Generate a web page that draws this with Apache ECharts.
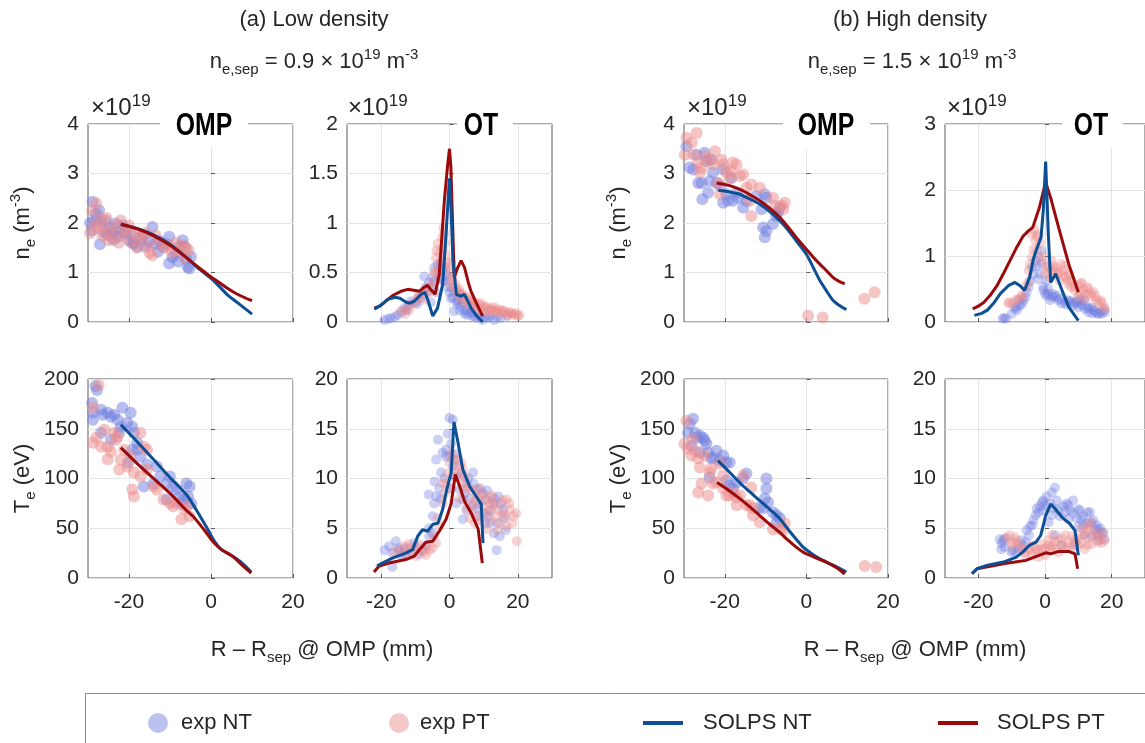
<!DOCTYPE html>
<html>
<head>
<meta charset="utf-8">
<script src="https://cdn.jsdelivr.net/npm/echarts@6.0.0/dist/echarts.min.js"></script>
<style>
  html, body { margin: 0; padding: 0; background: #fff; }
  #chart { width: 1145px; height: 743px; }
</style>
</head>
<body>
<div id="chart"></div>
<script>
// ===== data =====
const xTicks = [-20, 0, 20];

// (a) low density, OMP n_e  (x: mm, y: 1e19 m^-3)
const lowOmpNeNT = [[-29.5,2.0],[-28.9,2.43],[-28.1,2.19],[-27.3,2.26],[-26.9,2.02],[-27.1,1.57],[-26.1,1.82],[-25.3,1.76],[-24.5,1.9],[-23.3,1.99],[-22.8,1.72],[-22.0,1.83],[-20.8,1.79],[-20.0,1.65],[-18.8,1.58],[-18.0,1.52],[-17.2,1.69],[-16.0,1.52],[-15.2,1.62],[-14.3,1.92],[-13.5,1.58],[-13.0,1.42],[-11.8,1.52],[-11.0,1.58],[-10.2,1.72],[-10.2,1.18],[-9.4,1.31],[-8.6,1.38],[-7.8,1.52],[-6.9,1.65],[-6.5,1.52],[-6.1,1.28],[-5.7,1.11],[-5.3,1.08],[-4.9,1.32],[-29.0,1.85],[-25.8,2.05],[-23.8,1.66],[-21.5,1.95],[-19.5,1.78],[-16.6,1.74],[-12.4,1.63],[-8.0,1.22],[-28.4,2.05],[-24.0,1.8],[-19.0,1.6]];
const lowOmpNePT = [[-29.5,1.8],[-29.0,2.25],[-28.5,1.95],[-28.0,2.4],[-27.5,1.9],[-27.0,2.1],[-26.5,1.75],[-26.0,1.9],[-25.5,2.1],[-25.0,1.65],[-24.5,1.85],[-24.0,1.7],[-23.0,1.95],[-22.5,1.6],[-22.0,2.05],[-21.5,1.75],[-21.0,1.85],[-20.0,1.95],[-19.5,1.6],[-19.0,1.8],[-18.0,1.5],[-17.5,1.7],[-17.0,1.75],[-16.0,1.8],[-15.5,1.55],[-15.0,1.4],[-14.3,1.35],[-13.5,1.75],[-12.5,1.6],[-11.5,1.5],[-10.5,1.55],[-9.5,1.4],[-8.5,1.6],[-8.0,1.45],[-7.0,1.55],[-6.5,1.3],[-6.0,1.5],[-5.5,1.45]];
const lowOmpNeSolNT = [[-22,1.97],[-18,1.89],[-14,1.76],[-10,1.57],[-6,1.3],[-3,1.08],[0,0.88],[2,0.72],[4,0.55],[6,0.42],[8,0.29],[10,0.16]];
const lowOmpNeSolPT = [[-22,1.98],[-18,1.88],[-14,1.74],[-10,1.55],[-6,1.3],[-3,1.1],[0,0.91],[2,0.8],[4,0.68],[6,0.58],[8,0.5],[10,0.43]];

// (a) low density, OT n_e
const lowOtNeNT = [[-19.1,0.02],[-17.1,0.04],[-15.2,0.07],[-13.2,0.14],[-11.3,0.21],[-8.3,0.24],[-7.4,0.46],[-5.4,0.35],[-4.4,0.41],[-3.5,0.58],[-2.0,0.53],[-1.5,0.41],[-0.5,0.35],[0.4,0.24],[1.4,0.11],[1.9,0.21],[2.9,0.28],[3.4,0.16],[4.3,0.11],[5.3,0.07],[6.8,0.06],[8.2,0.04],[9.7,0.02],[11.2,0.04],[13.1,0.02],[15.0,0.04],[17.0,0.06],[-18,0.03],[-16,0.05],[-14,0.1],[-12,0.17],[-10,0.2],[-9,0.25],[-6.5,0.3],[-3,0.45],[-2.5,0.6],[-1,0.48],[0,0.3],[1,0.25],[2.4,0.18],[3.8,0.24],[5,0.12],[6,0.09],[7.5,0.05],[-4,0.3],[-6,0.4],
    [-7,0.35],[-5,0.45],[-4.5,0.55],[-3,0.52],[-2,0.42],[-1.5,0.55],[-0.5,0.45],[0.5,0.35],[1.5,0.3],[2.5,0.22],[3,0.12],[4,0.2],[4.5,0.08],[6,0.15],[7,0.1],[9,0.06],[10.5,0.05],[12,0.06],[14,0.05],[-9.5,0.18],[-12.5,0.12],[-5.5,0.2]];
const lowOtNePT = [[-14.2,0.11],[-12.7,0.13],[-11.3,0.18],[-9.3,0.24],[-7.4,0.28],[-5.4,0.35],[-4.0,0.65],[-3.5,0.79],[-3.0,0.48],[-2.5,0.62],[-2.0,0.75],[-1.5,0.89],[-1.0,0.68],[0.4,0.38],[1.4,0.35],[2.4,0.28],[3.4,0.24],[4.3,0.21],[5.3,0.18],[6.3,0.21],[7.3,0.16],[8.2,0.14],[9.2,0.19],[10.2,0.16],[11.2,0.13],[12.1,0.14],[13.1,0.11],[14.1,0.13],[15.1,0.09],[16.0,0.11],[17.0,0.07],[18.0,0.09],[19.0,0.07],[20.0,0.06],[-13,0.08],[-10,0.2],[-8,0.22],[-6,0.3],[-4.5,0.5],[-3.2,0.55],[-1.8,0.95],[-0.5,0.55],[0.8,0.45],[2,0.32],[3,0.3],[5,0.24],[7,0.2],[9,0.12],[11,0.1],[13,0.15],[15.5,0.12],[17.5,0.1],[19.5,0.09],
    [-9,0.28],[-7,0.32],[-5,0.4],[-4,0.5],[-3.8,0.72],[-2.8,0.7],[-2.2,0.85],[-1.2,0.8],[-0.8,0.6],[0,0.5],[0.5,0.6],[1,0.42],[1.8,0.38],[2.8,0.33],[3.8,0.28],[4.8,0.26],[5.8,0.22],[6.8,0.18],[7.8,0.2],[8.8,0.17],[9.8,0.13],[10.8,0.15],[11.8,0.11],[12.8,0.12],[13.8,0.1],[14.8,0.11],[16.5,0.09],[18.5,0.08],[20.5,0.07],[-11.8,0.12]];
const lowOtNeSolNT = [[-22,0.13],[-20,0.17],[-18,0.23],[-16,0.25],[-14.5,0.24],[-12.7,0.2],[-11.5,0.19],[-10.3,0.21],[-8.3,0.28],[-7.2,0.3],[-6.3,0.22],[-4.9,0.06],[-3.5,0.14],[-2,0.38],[-1,0.89],[-0.3,1.3],[0,1.45],[0.4,1.2],[1,0.62],[2,0.28],[3.4,0.26],[4.4,0.28],[5.5,0.2],[6.3,0.14],[8,0.06],[9.7,0]];
const lowOtNeSolPT = [[-22,0.14],[-20.5,0.16],[-19,0.2],[-16.5,0.27],[-14.2,0.31],[-12.2,0.33],[-10.5,0.32],[-8.8,0.31],[-7.5,0.35],[-6.4,0.37],[-5.3,0.32],[-4.2,0.28],[-3,0.48],[-1.5,1.23],[-0.5,1.6],[0,1.75],[0.4,1.57],[0.9,1.0],[1.4,0.45],[2.4,0.55],[3.4,0.62],[4.4,0.55],[5.5,0.4],[6.3,0.31],[8,0.18],[9.7,0.06]];

// (a) low density, OMP T_e (eV)
const lowOmpTeNT = [[-29.0,176],[-28.8,166],[-28.2,193],[-27.8,189],[-28.8,159],[-26.8,169],[-26.4,164],[-25.2,166],[-24.4,162],[-23.6,164],[-22.8,159],[-21.6,171],[-19.6,166],[-20.4,156],[-19.2,152],[-18.8,146],[-18.0,136],[-19.2,129],[-20.2,116],[-17.2,122],[-16.4,92],[-14.0,95],[-13.2,112],[-12.4,102],[-10.8,95],[-10.0,102],[-9.2,92],[-8.4,89],[-7.6,82],[-6.8,79],[-6.0,95],[-5.2,92],[-5.6,82],[-4.8,75],[-7.2,75],[-26.8,146],[-24.4,139],[-22.4,146],[-18.0,129],[-15.6,114],[-10.8,79],[-22.0,152]];
const lowOmpTePT = [[-27.4,194],[-28.8,171],[-28.8,136],[-28.0,141],[-26.8,132],[-26.0,149],[-25.2,132],[-24.4,127],[-23.2,139],[-22.8,142],[-22.4,109],[-22.0,119],[-21.2,129],[-18.8,106],[-19.2,89],[-18.8,82],[-17.2,146],[-16.4,132],[-15.6,129],[-17.2,102],[-14.0,92],[-11.6,79],[-10.0,75],[-9.2,72],[-8.4,75],[-7.2,59],[-6.4,69],[-5.2,62],[-25.2,119],[-23.6,146],[-20.4,112],[-15.6,109],[-13.2,89],[-6.0,72],[-19.6,122]];
const lowOmpTeSolNT = [[-22,154],[-18,137],[-14,119],[-10,101],[-6,84],[-4.4,74],[-2.8,63],[-0.8,49],[0.8,37],[2.4,29],[5.2,22],[7.6,15],[9.8,6]];
const lowOmpTeSolPT = [[-22,131],[-18,115],[-14,100],[-10,85],[-6,68],[-4.4,62],[-1.6,48],[0.4,37],[2.4,29],[5.2,22],[7.6,13],[9.8,5]];

// (a) low density, OT T_e
const lowOtTeNT = [[-17.7,3.2],[-15.7,3.7],[-16.7,2.5],[-14.7,2.8],[-12.8,2.5],[-9.8,3.2],[-7.9,2.8],[-5.9,4.2],[-4.9,6.2],[-3.9,8.2],[-4.4,9.7],[-3.9,11.9],[-3.4,13.9],[-2.5,10.6],[-2.0,12.6],[-1.0,12.9],[0,16.1],[1.0,15.9],[0,12.2],[1.0,11.2],[2.0,10.2],[2.9,8.9],[3.9,7.9],[4.9,9.5],[6.9,10.6],[7.9,8.9],[8.8,7.5],[9.8,8.5],[10.8,7.9],[11.8,5.5],[13.8,2.8],[14.7,4.2],[15.7,6.9],[14.3,8.2],[12.8,7.5],[11.3,6.2],[3.9,5.9],[-16.7,1.1],[-6.1,8.4],[-1.0,12.2],
    [-14,2.2],[-13,3.0],[-11,2.6],[-10.5,3.5],[-9,2.4],[-7,3.3],[-6,5.0],[-5,4.5],[-4.5,7.5],[-3,9.0],[-2.5,8.0],[-1.5,10.0],[-0.5,14.5],[0.5,13.5],[1.5,12.5],[2.5,11.8],[3.5,10.5],[4.5,8.5],[5.5,10.0],[6,8.0],[7,9.5],[8,7.0],[9,9.0],[10,6.5],[11,8.8],[12,6.8],[13,8.0],[14,5.5],[15,7.5],[16,6.0],[16.5,4.8],[13,4.5],[10.5,5.5],[8.5,6.2],[6.5,7.2],[5,6.8],[2,7.5],[-19,2.8],[-15,3.0],[0.5,9.0]];
const lowOtTePT = [[-14.7,2.8],[-13.3,3.2],[-11.8,3.0],[-10.8,2.5],[-9.8,2.2],[-8.4,2.8],[-6.9,2.3],[-5.9,2.8],[-3.9,3.5],[-2.9,5.2],[-2.0,7.5],[-1.0,9.5],[0,11.6],[1.0,11.9],[2.0,11.2],[2.9,10.2],[3.9,9.5],[4.9,8.9],[5.9,7.5],[6.9,6.9],[7.9,6.2],[8.8,8.2],[9.8,7.2],[10.8,6.5],[11.8,7.5],[12.8,7.2],[13.8,6.2],[14.7,5.5],[15.7,6.5],[16.7,7.9],[17.7,6.9],[18.7,6.2],[19.7,3.7],[16.7,5.2],[11.8,8.2],[3.9,10.9],[-2.0,9.5],[1.0,10.2],[7.4,5.5],[10.8,4.9],
    [-16,2.6],[-13,2.4],[-12,3.4],[-10,3.0],[-9,3.4],[-7.5,2.6],[-6.5,3.2],[-5,3.0],[-4.5,4.2],[-3.5,6.0],[-1.5,8.5],[-0.5,10.5],[0.5,12.5],[1.5,10.8],[2.5,12.0],[3.5,11.5],[4.5,10.2],[5.5,9.2],[6.5,8.8],[7.5,7.8],[8.5,9.0],[9.5,8.5],[10.5,7.8],[11.5,6.8],[12.5,8.3],[13.5,7.5],[14.5,6.8],[15.5,7.8],[16.5,6.2],[17.5,7.5],[18.5,5.5],[19.5,6.5],[14,4.8],[12,5.8],[9,5.8],[6,6.0],[3,8.0],[0,9.0],[5,7.0],[8,8.0]];
const lowOtTeSolNT = [[-21.2,1.2],[-19.7,1.5],[-16.7,2.0],[-12.8,2.5],[-10.8,2.85],[-9.3,4.2],[-7.9,4.85],[-6.4,4.7],[-4.9,5.4],[-3.4,5.5],[-2,6.9],[-0.8,8.9],[0.5,10.6],[1.3,15.7],[2.5,13.6],[3.9,10.9],[5.9,9.2],[8.4,7.9],[9.3,7.4],[9.8,3.5]];
const lowOtTeSolPT = [[-22.1,0.6],[-20.6,1.2],[-17.7,1.5],[-12.8,1.85],[-10.3,2.2],[-8.4,3.0],[-6.9,3.6],[-4.9,3.7],[-3,4.7],[-1,5.9],[0.5,7.5],[1.7,10.4],[3,9.2],[4.4,7.7],[6.4,6.5],[8.4,4.9],[9.6,1.5]];

// (b) high density, OMP n_e
const highOmpNeNT = [[-29.4,3.55],[-28.6,3.12],[-27.7,3.08],[-26.5,2.81],[-25.7,2.81],[-25.5,2.48],[-24.9,3.42],[-24.5,3.25],[-24.1,2.61],[-23.7,2.85],[-22.9,3.02],[-22.0,2.81],[-21.2,2.75],[-20.4,3.08],[-20.4,2.41],[-19.6,2.58],[-19.2,2.45],[-18.4,2.91],[-18.0,2.45],[-17.1,2.61],[-15.5,2.31],[-14.7,2.45],[-12.3,2.55],[-11.0,2.28],[-10.2,2.58],[-9.8,2.51],[-10.6,1.91],[-10.2,1.71],[-9.8,1.84],[-8.2,1.98],[-7.4,2.14],[-6.6,2.31],[-7.0,2.21],[-26.9,3.38],[-23.3,3.28],[-16.7,2.51]];
const highOmpNePT = [[-29.8,3.38],[-29.4,3.72],[-28.1,3.62],[-26.9,3.82],[-27.7,3.38],[-26.5,3.22],[-26.1,3.02],[-24.9,3.35],[-23.7,3.28],[-22.4,3.45],[-22.9,3.18],[-21.6,2.81],[-21.2,2.58],[-20.8,3.28],[-19.6,3.02],[-18.8,2.91],[-18.0,3.22],[-17.1,3.18],[-16.3,2.95],[-15.5,2.98],[-14.7,2.71],[-13.5,2.78],[-13.9,2.45],[-13.5,2.14],[-11.4,2.71],[-8.2,2.51],[-7.8,2.35],[-6.1,2.35],[-5.3,2.41],[-5.7,2.28],[0.4,0.13],[4.0,0.09],[14.2,0.47],[16.7,0.6],[-25.7,3.12],[-20.4,3.18],[-18.4,3.05]];
const highOmpNeSolNT = [[-21.6,2.66],[-19,2.63],[-16.3,2.58],[-14,2.49],[-11.4,2.38],[-9,2.23],[-6.5,2.04],[-4.5,1.86],[-2.5,1.64],[0,1.37],[1.8,1.08],[3.3,0.84],[5,0.62],[6.5,0.44],[8,0.34],[9.8,0.25]];
const highOmpNeSolPT = [[-22,2.81],[-19,2.76],[-16.3,2.68],[-14,2.58],[-11.4,2.45],[-9,2.3],[-6.5,2.11],[-4.5,1.92],[-2.5,1.71],[0,1.47],[1.8,1.3],[3.3,1.17],[5,1.03],[6.5,0.9],[8,0.82],[9.4,0.77]];

// (b) high density, OT n_e
const highOtNeNT = [[-12.7,0.05],[-11.7,0.05],[-8.8,0.23],[-7.8,0.33],[-5.9,0.38],[-4.9,0.53],[-3.9,0.83],[-2.9,0.93],[-1.9,0.98],[-1.0,1.08],[-1.5,0.73],[0.05,0.43],[1.0,0.43],[2.0,0.38],[2.9,0.38],[3.9,0.33],[5.9,0.3],[7.8,0.3],[8.8,0.28],[10.7,0.28],[12.7,0.23],[14.6,0.18],[16.6,0.15],[17.6,0.18],[15.6,0.13],[13.2,0.2],[11.7,0.33],[10.7,0.35],[-6.8,0.28],[-8.3,0.18],[-0.5,0.53],[0.5,0.63],[-1.0,0.88],[1.5,0.33],[6.8,0.33],[9.8,0.33],[14.1,0.13],
    [-12.2,0.06],[-10,0.12],[-9,0.2],[-7.5,0.25],[-6.5,0.33],[-5.5,0.45],[-4.5,0.62],[-3.5,0.72],[-2.5,0.85],[-2,0.65],[-0.5,0.48],[0.5,0.4],[1,0.5],[2.5,0.42],[3.5,0.4],[4.5,0.35],[5,0.28],[6.5,0.26],[7.5,0.32],[8.5,0.25],[9.5,0.3],[10,0.22],[11,0.25],[12,0.2],[13,0.15],[14,0.22],[15,0.16],[16,0.12],[17,0.12],[18,0.15]];
const highOtNePT = [[-10.7,0.3],[-8.8,0.33],[-5.9,0.53],[-4.9,0.78],[-3.9,0.98],[-2.9,1.23],[-1.9,1.33],[-3.9,1.33],[-1.0,0.93],[1.0,0.83],[2.0,0.93],[2.9,0.78],[3.9,0.73],[4.9,0.88],[5.9,0.78],[6.8,0.63],[7.8,0.53],[8.8,0.53],[10.7,0.58],[11.7,0.48],[12.7,0.53],[13.7,0.43],[14.6,0.45],[15.6,0.33],[16.6,0.33],[17.6,0.23],[9.8,0.38],[11.7,0.35],[-9.8,0.28],[-6.8,0.38],[-2.4,1.08],[0,0.73],[1.5,0.68],[4.4,0.63],[6.3,0.68],
    [-11,0.28],[-8,0.35],[-7,0.4],[-5,0.6],[-4.5,0.88],[-3.5,1.1],[-2.5,1.3],[-3.2,1.4],[-1.5,1.2],[-0.5,1.0],[0.5,0.85],[1.5,0.78],[2.5,0.85],[3.5,0.82],[4.2,0.75],[5.5,0.7],[6,0.85],[7.2,0.72],[7,0.58],[8,0.62],[9,0.48],[10,0.55],[10.5,0.45],[11,0.6],[12,0.42],[13,0.5],[14,0.38],[15,0.4],[16,0.28],[17,0.3],[18,0.2]];
const highOtNeSolNT = [[-21.2,0.1],[-19,0.13],[-17.3,0.18],[-15.5,0.28],[-13.4,0.43],[-11,0.55],[-9,0.6],[-7.5,0.55],[-6.1,0.48],[-4.6,0.68],[-3.5,0.95],[-2.7,1.08],[-1.2,1.28],[-0.5,1.7],[0.2,2.43],[1,1.33],[1.7,0.6],[3.2,0.73],[5.1,0.48],[7.1,0.23],[10,0.02]];
const highOtNeSolPT = [[-21.7,0.2],[-20,0.24],[-18.3,0.3],[-16.5,0.4],[-14.4,0.55],[-12.5,0.73],[-10.5,0.93],[-8.5,1.13],[-6.6,1.3],[-5,1.38],[-3.7,1.43],[-1.7,1.73],[0.2,2.12],[1.7,1.88],[4.1,1.43],[7.1,0.88],[9,0.6],[10,0.45]];

// (b) high density, OMP T_e
const highOmpTeNT = [[-29.0,146],[-28.6,155],[-27.8,160],[-28.2,133],[-26.9,141],[-26.1,143],[-25.3,141],[-24.9,138],[-24.5,135],[-24.1,126],[-26.1,126],[-23.7,101],[-22.9,121],[-22.0,128],[-21.2,118],[-20.4,123],[-19.6,116],[-18.8,116],[-19.6,98],[-18.8,93],[-18.0,90],[-14.7,105],[-15.5,100],[-11.4,71],[-10.2,80],[-9.8,100],[-9.8,90],[-9.4,76],[-8.2,66],[-7.3,63],[-6.5,60],[-7.3,56],[-27.3,146],[-23.3,120],[-17.1,96],[-10.6,70]];
const highOmpTePT = [[-29.4,158],[-29.9,135],[-29.0,130],[-28.2,123],[-27.8,140],[-27.3,128],[-26.5,120],[-26.1,111],[-25.7,95],[-26.5,86],[-24.1,83],[-23.7,106],[-23.3,110],[-22.9,95],[-22.0,96],[-21.2,115],[-20.4,90],[-19.6,83],[-18.8,83],[-18.0,86],[-17.1,81],[-16.3,83],[-15.5,103],[-14.7,73],[-13.9,73],[-13.5,91],[-13.1,70],[-11.4,56],[-6.5,49],[-5.7,48],[-5.3,55],[14.3,12],[17.1,11],[-24.9,123],[-20.4,103],[-17.1,73],[-13.1,63],[-8.2,49]];
const highOmpTeSolNT = [[-21.7,118],[-19,107],[-16.4,96],[-14,87],[-11.5,78],[-9,69],[-6.6,60],[-4.5,49],[-2.5,39],[-0.8,31],[0.8,26],[3,20],[4.9,16],[7.5,11],[9.8,6]];
const highOmpTeSolPT = [[-21.9,96],[-19,88],[-16.4,80],[-14,72],[-11.5,63],[-9,54],[-6.6,46],[-4.5,38],[-2.5,31],[-0.8,26],[0.8,23],[3,19],[4.9,16],[7.5,10],[9.4,4]];

// (b) high density, OT T_e
const highOtTeNT = [[-13.6,3.9],[-12.6,3.8],[-12.2,3.1],[-13.1,2.9],[-8.7,2.6],[-6.8,3.3],[-4.8,4.3],[-3.8,5.3],[-2.8,6.3],[-1.9,6.6],[-0.9,7.6],[0.1,7.3],[2.1,8.6],[3.0,9.1],[1.1,5.6],[2.1,6.3],[4.0,6.9],[6.0,6.6],[7.0,5.9],[8.4,7.8],[9.9,6.9],[10.9,5.9],[12.8,6.6],[13.8,5.6],[14.8,4.9],[15.8,4.3],[16.8,4.6],[17.7,3.9],[11.9,4.3],[8.9,3.3],[5.0,3.3],[3.0,4.3],[-9.7,2.8],[-5.8,3.6],[-0.5,7.8],[7.0,7.3],[11.4,5.3],[15.8,4.9],
    [-13,3.5],[-12,4.0],[-10,2.6],[-8,3.0],[-7,3.8],[-5.5,4.8],[-4.5,5.2],[-3.5,5.8],[-2.5,7.0],[-1.5,7.2],[-0.5,6.8],[0.5,8.2],[1.5,7.5],[2.5,7.0],[3.5,7.8],[4.5,6.2],[5.5,7.2],[6.5,7.5],[7.5,6.8],[8.5,6.5],[9.5,6.0],[10.5,6.8],[11.5,6.2],[12.5,5.5],[13.5,6.6],[14.5,5.8],[15.5,5.3],[16.5,5.0],[17.5,4.5],[14,4.2],[16,3.8],[10,5.2]];
const highOtTePT = [[-10.7,4.3],[-9.7,3.6],[-8.7,3.8],[-6.8,2.9],[-4.8,2.9],[-2.8,2.6],[-0.9,2.9],[1.1,3.3],[3.0,3.6],[5.0,3.3],[7.0,3.6],[8.9,3.9],[10.9,4.3],[12.8,4.9],[14.8,4.3],[15.8,3.6],[16.8,3.9],[11.9,2.9],[7.9,2.9],[4.0,2.6],[0.1,2.3],[-1.9,2.1],[-5.8,2.3],[-3.8,3.3],[2.1,4.3],[6.0,4.3],[9.9,3.3],[13.8,5.6],[12.8,3.3],[1.6,2.9],
    [-11.5,4.0],[-10,3.2],[-9,4.1],[-8,3.5],[-7,3.0],[-6,2.6],[-4,2.4],[-3,3.0],[-2,2.8],[-1,3.4],[0,3.0],[1,3.8],[2,3.2],[3,2.9],[4,3.8],[5,4.0],[6,3.0],[7,3.2],[8,4.2],[9,3.6],[10,3.9],[11,3.5],[12,4.5],[13,4.0],[14,3.4],[15,4.6],[16,4.2],[17,3.5],[17.5,4.6],[18,3.8],[13,5.2],[11,5.0]];
const highOtTeSolNT = [[-21.9,0.43],[-20.4,0.93],[-17.5,1.27],[-12.5,1.6],[-8.6,2.1],[-6.7,2.6],[-4.7,3.27],[-2.7,3.6],[-1.3,4.27],[0.2,6.27],[1.7,7.43],[3.1,6.93],[5.1,6.1],[7.5,5.43],[9,4.77],[10,2.27]];
const highOtTeSolPT = [[-21.9,0.43],[-20.4,0.93],[-16,1.2],[-12.5,1.43],[-9,1.6],[-5.7,1.77],[-1.8,2.27],[0.2,2.53],[1.7,2.43],[4.1,2.67],[7.1,2.67],[9,2.43],[9.8,0.93]];

// ===== style =====
const FONT = "'Liberation Sans', 'Helvetica Neue', Arial, sans-serif";
const TXT = '#262626';
const C_NT = '#0c4f95';
const C_PT = '#9b0a0a';
const C_EXP_NT = 'rgb(112,126,224)';
const C_EXP_PT = 'rgb(236,138,138)';

const rich = {
    n: { fontSize: 22, fontFamily: FONT, color: TXT, lineHeight: 30 },
    sub: { fontSize: 15, fontFamily: FONT, color: TXT, lineHeight: 15, verticalAlign: 'bottom' },
    sup: { fontSize: 15, fontFamily: FONT, color: TXT, lineHeight: 15, verticalAlign: 'top' }
};

// panel layout: [left, top, width, height]
const panels = [
    { box: [88, 124, 205, 198], x: [-30, 20], y: [0, 4, 1], d: [lowOmpNeNT, lowOmpNePT, lowOmpNeSolNT, lowOmpNeSolPT], omp: true, bottom: false, yName: 'ne' },
    { box: [347, 124, 205, 198], x: [-30, 30], y: [0, 2, 0.5], d: [lowOtNeNT, lowOtNePT, lowOtNeSolNT, lowOtNeSolPT], omp: false, bottom: false },
    { box: [88, 379, 205, 199], x: [-30, 20], y: [0, 200, 50], d: [lowOmpTeNT, lowOmpTePT, lowOmpTeSolNT, lowOmpTeSolPT], omp: true, bottom: true, yName: 'te' },
    { box: [347, 379, 205, 199], x: [-30, 30], y: [0, 20, 5], d: [lowOtTeNT, lowOtTePT, lowOtTeSolNT, lowOtTeSolPT], omp: false, bottom: true },
    { box: [684, 124, 204, 198], x: [-30, 20], y: [0, 4, 1], d: [highOmpNeNT, highOmpNePT, highOmpNeSolNT, highOmpNeSolPT], omp: true, bottom: false, yName: 'ne' },
    { box: [945, 124, 205, 198], x: [-30, 30], y: [0, 3, 1], d: [highOtNeNT, highOtNePT, highOtNeSolNT, highOtNeSolPT], omp: false, bottom: false },
    { box: [684, 379, 204, 199], x: [-30, 20], y: [0, 200, 50], d: [highOmpTeNT, highOmpTePT, highOmpTeSolNT, highOmpTeSolPT], omp: true, bottom: true, yName: 'te' },
    { box: [945, 379, 205, 199], x: [-30, 30], y: [0, 20, 5], d: [highOtTeNT, highOtTePT, highOtTeSolNT, highOtTeSolPT], omp: false, bottom: true }
];

const yNames = {
    ne: '{n|n}{sub|e}{n| (m}{sup|-3}{n|)}',
    te: '{n|T}{sub|e}{n| (eV)}'
};

const grid = [], xAxis = [], yAxis = [], series = [];

panels.forEach((p, i) => {
    grid.push({
        left: p.box[0], top: p.box[1], width: p.box[2], height: p.box[3],
        show: true, borderColor: '#5a5a5a', borderWidth: 1
    });
    xAxis.push({
        gridIndex: i, type: 'value', min: p.x[0], max: p.x[1],
        axisLine: { show: false },
        axisTick: { show: true, inside: true, length: 4, customValues: xTicks, lineStyle: { color: '#5a5a5a' } },
        axisLabel: { show: p.bottom, customValues: xTicks, fontSize: 21, fontFamily: FONT, color: TXT, margin: 14 },
        splitLine: { show: true, lineStyle: { color: '#e4e4e4' } }
    });
    yAxis.push({
        gridIndex: i, type: 'value', min: p.y[0], max: p.y[1], interval: p.y[2],
        axisLine: { show: false },
        axisTick: { show: true, inside: true, length: 4, lineStyle: { color: '#5a5a5a' } },
        axisLabel: { fontSize: 21, fontFamily: FONT, color: TXT, margin: 9 },
        splitLine: { show: true, lineStyle: { color: '#e4e4e4' } },
        name: p.yName ? yNames[p.yName] : '',
        nameLocation: 'middle', nameRotate: 90, nameGap: 50,
        nameTextStyle: { rich }
    });

    const sz = p.omp ? 12 : 10;
    const op = p.omp ? 0.5 : 0.36;
    series.push(
        { type: 'scatter', name: 'exp NT', xAxisIndex: i, yAxisIndex: i, data: p.d[0], symbolSize: sz,
          itemStyle: { color: C_EXP_NT, opacity: op }, z: 2, silent: true },
        { type: 'scatter', name: 'exp PT', xAxisIndex: i, yAxisIndex: i, data: p.d[1], symbolSize: sz,
          itemStyle: { color: C_EXP_PT, opacity: op }, z: 2, silent: true },
        { type: 'line', name: 'SOLPS NT', xAxisIndex: i, yAxisIndex: i, data: p.d[2], symbol: 'none',
          smooth: p.omp ? 0.3 : false, lineStyle: { color: C_NT, width: 3 }, itemStyle: { color: C_NT },
          z: p.omp ? 3 : 4, silent: true },
        { type: 'line', name: 'SOLPS PT', xAxisIndex: i, yAxisIndex: i, data: p.d[3], symbol: 'none',
          smooth: p.omp ? 0.3 : false, lineStyle: { color: C_PT, width: 3 }, itemStyle: { color: C_PT },
          z: p.omp ? 4 : 3, silent: true }
    );
});

// ===== texts drawn on top =====
function txt(x, y, text, extra, el) {
    return Object.assign({
        type: 'text', x, y, z: 60,
        style: Object.assign({ text, fontSize: 22, fontFamily: FONT, fill: TXT,
            align: 'center', verticalAlign: 'middle', textAlign: 'center', textVerticalAlign: 'middle' }, extra || {})
    }, el || {});
}

const titleBoxes = [
    { rect: [160, 104, 88, 43], label: 'OMP', cx: 204 },
    { rect: [457, 104, 56, 43], label: 'OT', cx: 481 },
    { rect: [783, 104, 87, 44], label: 'OMP', cx: 826 },
    { rect: [1062, 104, 61, 44], label: 'OT', cx: 1091 }
];
const expoLabels = [91, 348, 687, 947];

const graphic = [];
graphic.push(txt(314, 20, '(a) Low density'));
graphic.push(txt(910, 20, '(b) High density'));
graphic.push(txt(314, 62, '{n|n}{sub|e,sep}{n| = 0.9 × 10}{sup|19}{n| m}{sup|-3}', { rich }));
graphic.push(txt(912, 62, '{n|n}{sub|e,sep}{n| = 1.5 × 10}{sup|19}{n| m}{sup|-3}', { rich }));
graphic.push(txt(322, 650, '{n|R – R}{sub|sep}{n| @ OMP (mm)}', { rich }));
graphic.push(txt(915, 650, '{n|R – R}{sub|sep}{n| @ OMP (mm)}', { rich }));

titleBoxes.forEach(t => {
    graphic.push({ type: 'rect', z: 50, shape: { x: t.rect[0], y: t.rect[1], width: t.rect[2], height: t.rect[3] }, style: { fill: '#fff' } });
    // condensed bold look: squeeze a bold sans horizontally
    graphic.push(txt(t.cx, 126, t.label, { fontSize: 31, fontWeight: 'bold', fontFamily: FONT, fill: '#000' }, { scaleX: 0.8 }));
});
expoLabels.forEach(x => {
    graphic.push(txt(x, 108, '{a|×10}{b|19}', {
        align: 'left', textAlign: 'left',
        rich: {
            a: { fontSize: 24, fontFamily: FONT, color: '#404040', lineHeight: 30 },
            b: { fontSize: 17, fontFamily: FONT, color: '#404040', lineHeight: 17, verticalAlign: 'top', padding: [0, 0, 8, 0] }
        }
    }));
});
// legend frame
graphic.push({ type: 'rect', z: 0, shape: { x: 85.5, y: 693.5, width: 1100, height: 80 }, style: { fill: 'none', stroke: '#8a8a8a', lineWidth: 1 } });

const legendText = { fontSize: 22, fontFamily: FONT, color: TXT };
const legend = [
    { left: 143, top: 707, itemWidth: 20, itemHeight: 20, data: [{ name: 'exp NT', icon: 'circle', itemStyle: { color: '#bcc2ef', opacity: 1 } }],
      textStyle: Object.assign({ padding: [0, 0, 0, 8] }, legendText) },
    { left: 384, top: 707, itemWidth: 20, itemHeight: 20, data: [{ name: 'exp PT', icon: 'circle', itemStyle: { color: '#f4c8c8', opacity: 1 } }],
      textStyle: Object.assign({ padding: [0, 0, 0, 6] }, legendText) },
    { left: 638, top: 707, itemWidth: 40, itemHeight: 4, data: [{ name: 'SOLPS NT', icon: 'rect', itemStyle: { color: C_NT, borderWidth: 0 } }],
      textStyle: Object.assign({ padding: [0, 0, 0, 15] }, legendText) },
    { left: 933, top: 707, itemWidth: 40, itemHeight: 4, data: [{ name: 'SOLPS PT', icon: 'rect', itemStyle: { color: C_PT, borderWidth: 0 } }],
      textStyle: Object.assign({ padding: [0, 0, 0, 14] }, legendText) }
];

const chart = echarts.init(document.getElementById('chart'));
chart.setOption({
    backgroundColor: '#fff',
    animation: false,
    grid, xAxis, yAxis, series, legend, graphic
});
</script>
</body>
</html>
